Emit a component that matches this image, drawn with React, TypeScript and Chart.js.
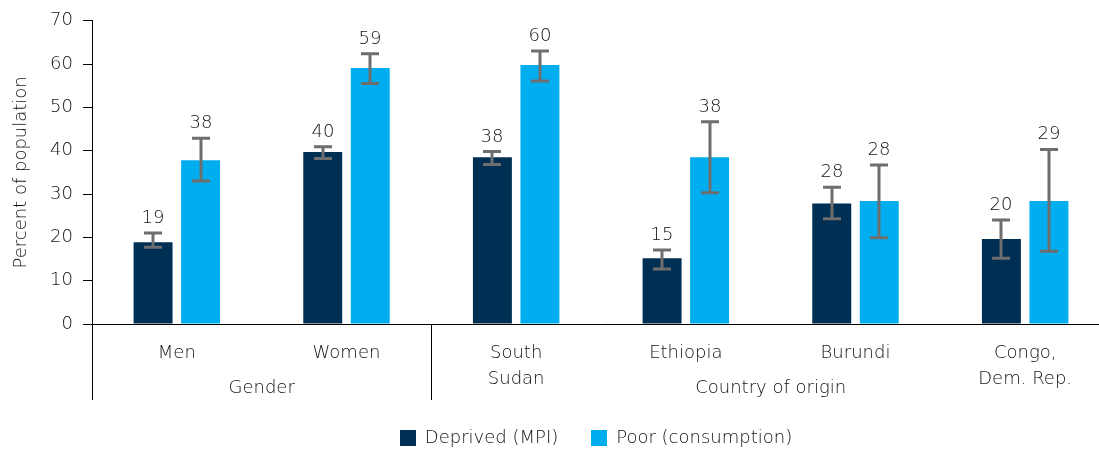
import React, { useEffect, useRef } from 'react';
import { Chart, registerables } from 'chart.js';

Chart.register(...registerables);

const categories: string[][] = [['Men'], ['Women'], ['South', 'Sudan'], ['Ethiopia'], ['Burundi'], ['Congo,', 'Dem. Rep.']];
const groupNames = ['Gender', 'Country of origin'];
const groupStarts = [0, 2];
const groupEnds = [1, 5];

const seriesNames = ['Deprived (MPI)', 'Poor (consumption)'];
const deprived = [18.9, 39.7, 38.5, 15.2, 27.8, 19.6];
const deprivedLow = [17.7, 38.2, 36.8, 12.7, 24.3, 15.2];
const deprivedHigh = [21.0, 40.9, 39.8, 17.1, 31.6, 24.0];
const deprivedLabels = ['19', '40', '38', '15', '28', '20'];
const poor = [37.8, 59.1, 59.8, 38.5, 28.4, 28.4];
const poorLow = [33.0, 55.5, 56.1, 30.3, 19.9, 16.8];
const poorHigh = [42.9, 62.4, 63.0, 46.7, 36.7, 40.3];
const poorLabels = ['38', '59', '60', '38', '28', '29'];

const yMin = 0;
const yMax = 70;
const yStep = 10;

const DARK = '#002F54';
const LIGHT = '#00AEEF';
const ERR = '#6E6E6E';
const TEXT = '#111111';
const FONT = "'DejaVu Sans', sans-serif";
const WEIGHT = '200';

const lows = [deprivedLow, poorLow];
const highs = [deprivedHigh, poorHigh];
const labelsBy = [deprivedLabels, poorLabels];
const colors = [DARK, LIGHT];

const overlayPlugin = {
  id: 'overlay',
  afterDatasetsDraw(chart: any) {
    const ctx = chart.ctx;
    const yScale = chart.scales.y;
    ctx.save();
    chart.data.datasets.forEach((_: any, di: number) => {
      const meta = chart.getDatasetMeta(di);
      meta.data.forEach((bar: any, j: number) => {
        const x = Math.round(bar.x);
        const yLo = yScale.getPixelForValue(lows[di][j]);
        const yHi = yScale.getPixelForValue(highs[di][j]);
        ctx.strokeStyle = ERR;
        ctx.lineWidth = 3;
        ctx.beginPath();
        ctx.moveTo(x, yLo);
        ctx.lineTo(x, yHi);
        ctx.moveTo(x - 9, yLo);
        ctx.lineTo(x + 9, yLo);
        ctx.moveTo(x - 9, yHi);
        ctx.lineTo(x + 9, yHi);
        ctx.stroke();
        ctx.fillStyle = TEXT;
        ctx.font = `${WEIGHT} 18px ${FONT}`;
        ctx.textAlign = 'center';
        ctx.textBaseline = 'alphabetic';
        ctx.fillText(labelsBy[di][j], x, yHi - 10);
      });
    });
    ctx.restore();
  },
  afterDraw(chart: any) {
    const ctx = chart.ctx;
    const xScale = chart.scales.x;
    const area = chart.chartArea;
    const lineBottom = area.bottom + 76;
    ctx.save();
    ctx.strokeStyle = '#000';
    ctx.lineWidth = 1;
    ctx.beginPath();
    ctx.moveTo(area.left + 0.5, area.bottom);
    ctx.lineTo(area.left + 0.5, lineBottom);
    ctx.stroke();
    groupStarts.forEach((s, gi) => {
      const left = s === 0 ? area.left : (xScale.getPixelForTick(s - 1) + xScale.getPixelForTick(s)) / 2;
      const e = groupEnds[gi];
      const right = e === categories.length - 1 ? area.right : (xScale.getPixelForTick(e) + xScale.getPixelForTick(e + 1)) / 2;
      if (s !== 0) {
        ctx.beginPath();
        ctx.moveTo(Math.round(left) + 0.5, area.bottom);
        ctx.lineTo(Math.round(left) + 0.5, lineBottom);
        ctx.stroke();
      }
      ctx.fillStyle = TEXT;
      ctx.font = `${WEIGHT} 18px ${FONT}`;
      ctx.textAlign = 'center';
      ctx.textBaseline = 'middle';
      ctx.fillText(groupNames[gi], (left + right) / 2, area.bottom + 64);
    });
    ctx.font = `${WEIGHT} 18px ${FONT}`;
    const box = 16;
    const gapText = 9;
    const gapItem = 33;
    const widths = seriesNames.map((n) => ctx.measureText(n).width);
    const total = widths.reduce((a, w) => a + box + gapText + w, 0) + gapItem * (seriesNames.length - 1);
    let x = (area.left + area.right) / 2 - 5 - total / 2;
    const cy = chart.height - 15;
    seriesNames.forEach((n, i) => {
      ctx.fillStyle = colors[i];
      ctx.fillRect(Math.round(x), Math.round(cy - box / 2), box, box);
      ctx.fillStyle = TEXT;
      ctx.textAlign = 'left';
      ctx.textBaseline = 'middle';
      ctx.fillText(n, x + box + gapText, cy);
      x += box + gapText + widths[i] + gapItem;
    });
    ctx.restore();
  },
};

export default function App() {
  const ref = useRef<HTMLCanvasElement | null>(null);
  useEffect(() => {
    if (!ref.current) return;
    Chart.defaults.font.family = FONT;
    Chart.defaults.font.weight = WEIGHT as any;
    const chart = new Chart(ref.current, {
      type: 'bar',
      data: {
        labels: categories,
        datasets: [
          { label: seriesNames[0], data: deprived, backgroundColor: DARK, categoryPercentage: 0.56, barPercentage: 0.82 },
          { label: seriesNames[1], data: poor, backgroundColor: LIGHT, categoryPercentage: 0.56, barPercentage: 0.82 },
        ],
      },
      options: {
        responsive: false,
        animation: false,
        devicePixelRatio: 1,
        layout: { padding: { top: 8, right: 0, bottom: 40, left: 0 } },
        plugins: { legend: { display: false }, tooltip: { enabled: false } },
        scales: {
          x: {
            grid: { display: true, drawOnChartArea: false, drawTicks: false },
            border: { display: true, color: '#000', width: 1 },
            ticks: { color: TEXT, padding: 16, maxRotation: 0, autoSkip: false, font: { size: 18, lineHeight: 1.45, weight: WEIGHT as any } },
            afterFit(s: any) { s.height = 89; },
          },
          y: {
            min: yMin,
            max: yMax,
            ticks: { stepSize: yStep, color: TEXT, padding: 10, font: { size: 18, weight: WEIGHT as any } },
            grid: { display: true, drawOnChartArea: false, drawTicks: true, tickLength: 9, color: '#000' },
            border: { display: true, color: '#000', width: 1 },
            title: { display: true, text: 'Percent of population', color: TEXT, font: { size: 18, weight: WEIGHT as any }, padding: { top: 11, bottom: 0 } },
            afterFit(s: any) { s.width = 92; },
          },
        },
      },
      plugins: [overlayPlugin],
    });
    return () => chart.destroy();
  }, []);
  return (
    <div style={{ position: 'fixed', left: 0, top: 0, width: 1099, height: 453, overflow: 'hidden', background: '#fff' }}>
      <canvas ref={ref} width={1110} height={453} style={{ display: 'block' }} />
    </div>
  );
}
